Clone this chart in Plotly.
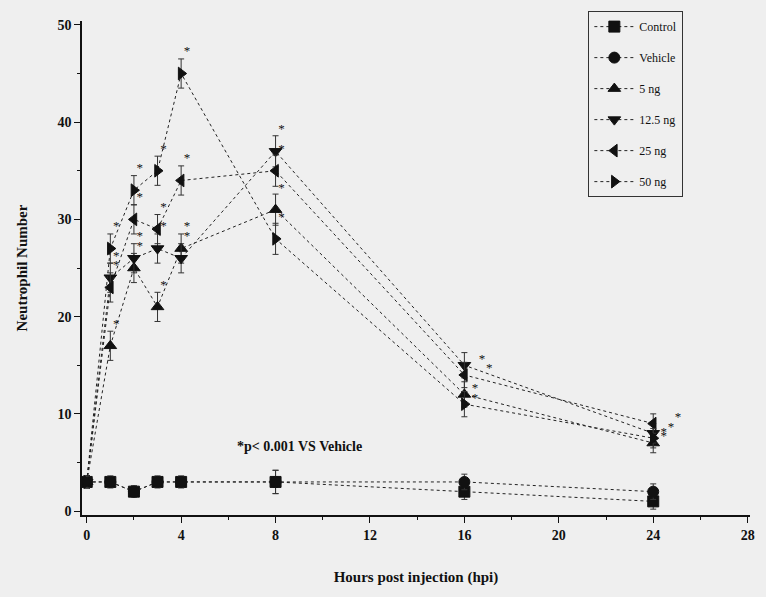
import plotly.graph_objects as go

hours = [0, 1, 2, 3, 4, 8, 16, 24]
control = [3, 3, 2, 3, 3, 3, 2, 1]
vehicle = [3, 3, 2, 3, 3, 3, 3, 2]
ng5 = [3, 17, 25, 21, 27, 31, 12, 7]
ng12_5 = [3, 24, 26, 27, 26, 37, 15, 8]
ng25 = [3, 23, 30, 29, 34, 35, 14, 9]
ng50 = [3, 27, 33, 35, 45, 28, 11, 7.5]
err_ctrl = [0.6, 0.6, 0.6, 0.6, 0.6, 1.2, 0.8, 0.8]
err_trt = [0.6, 1.5, 1.5, 1.5, 1.5, 1.6, 1.3, 1.0]

names = ["Control", "Vehicle", "5 ng", "12.5 ng", "25 ng", "50 ng"]
series = [control, vehicle, ng5, ng12_5, ng25, ng50]
symbols = ["square", "circle", "triangle-up", "triangle-down", "triangle-left", "triangle-right"]
errs = [err_ctrl, err_ctrl, err_trt, err_trt, err_trt, err_trt]

font_fam = "Liberation Serif"
fig = go.Figure()
for i, (nm, ys, sym, er) in enumerate(zip(names, series, symbols, errs)):
    fig.add_trace(go.Scatter(
        x=hours, y=ys, name=nm, mode="lines+markers",
        legendgroup=nm,
        line=dict(color="#222222", width=1, dash="dot"),
        marker=dict(symbol=sym, size=11, color="#111111",
                    line=dict(color="#111111", width=1)),
        error_y=dict(type="data", array=er, visible=True, color="#333333",
                     thickness=1, width=3),
    ))

# significance asterisks for treatment groups (t >= 1)
sx, sy = [], []
late_dx = [0.45, 0.75, 1.05, 0.45]
for k, ys in enumerate([ng5, ng12_5, ng25, ng50]):
    for h, v in zip(hours, ys):
        if h >= 1:
            if h <= 8:
                sx.append(h + 0.25)
                sy.append(v + 2.2)
            else:
                sx.append(h + late_dx[k])
                sy.append(v + 0.6)
fig.add_trace(go.Scatter(
    x=sx, y=sy, mode="text", text=["*"] * len(sx), showlegend=False,
    textfont=dict(family=font_fam, size=13, color="#111111"),
    hoverinfo="skip",
))

fig.add_annotation(x=9.0, y=6.6, xref="x", yref="y", showarrow=False,
                   text="<b>*p< 0.001 VS Vehicle</b>",
                   font=dict(family=font_fam, size=14, color="#111111"))

bg = "#efefef"
fig.update_layout(
    width=766, height=597,
    margin=dict(l=82, r=11, t=18, b=82),
    paper_bgcolor=bg, plot_bgcolor=bg,
    font=dict(family=font_fam, size=13, color="#111111"),
    showlegend=True,
    legend=dict(x=0.758, y=1.02, xanchor="left", yanchor="top",
                bordercolor="#333333", borderwidth=1, bgcolor=bg,
                traceorder="grouped", tracegroupgap=12,
                font=dict(family=font_fam, size=12, color="#111111"),
                itemwidth=40),
    xaxis=dict(range=[-0.2, 28.1], tickmode="array",
               tickvals=[0, 4, 8, 12, 16, 20, 24, 28],
               ticktext=["<b>%d</b>" % v for v in [0, 4, 8, 12, 16, 20, 24, 28]],
               ticks="outside", ticklen=6, tickcolor="#111111",
               minor=dict(dtick=2, ticks="outside", ticklen=3, tickcolor="#111111"),
               showgrid=False, zeroline=False, showline=True, linecolor="#111111",
               linewidth=1.5,
               title=dict(text="<b>Hours post injection (hpi)</b>",
                          font=dict(family=font_fam, size=15), standoff=30),
               tickfont=dict(family=font_fam, size=14)),
    yaxis=dict(range=[-0.4, 50.4], tickmode="array",
               tickvals=[0, 10, 20, 30, 40, 50],
               ticktext=["<b>%d</b>" % v for v in [0, 10, 20, 30, 40, 50]],
               ticks="outside", ticklen=6, tickcolor="#111111",
               minor=dict(dtick=5, ticks="outside", ticklen=3, tickcolor="#111111"),
               showgrid=False, zeroline=False, showline=True, linecolor="#111111",
               linewidth=1.5,
               title=dict(text="<b>Neutrophil Number</b>",
                          font=dict(family=font_fam, size=15), standoff=26),
               tickfont=dict(family=font_fam, size=14)),
)
fig.write_html("out.html")
